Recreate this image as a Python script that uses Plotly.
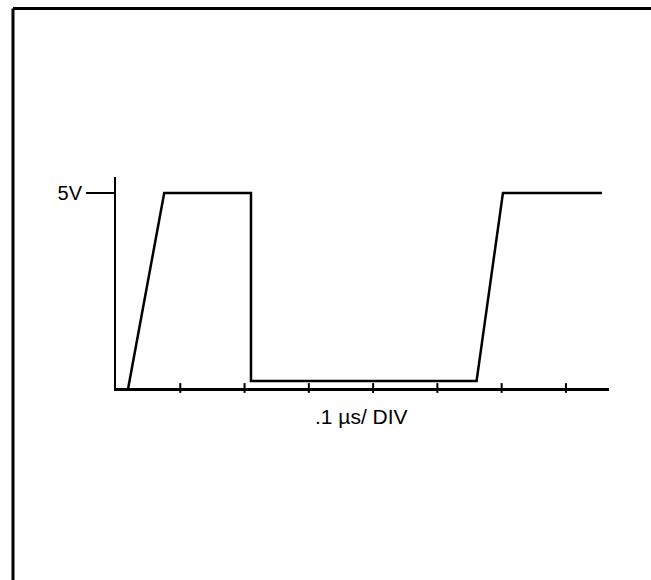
import plotly.graph_objects as go

# Waveform (time in divisions of .1 µs, voltage in volts)
wave_t = [0.19, 0.75, 2.10, 2.10, 5.61, 6.02, 7.56]
wave_v = [0.0, 5.0, 5.0, 0.18, 0.18, 5.0, 5.0]

x_ticks = [1, 2, 3, 4, 5, 6, 7]
y_ticks = [5]
y_tick_labels = ["5V"]
x_label = ".1 µs/ DIV"

x_range = [0, 7.67]
y_range = [0, 5.41]

fig = go.Figure()

fig.add_trace(go.Scatter(
    x=wave_t, y=wave_v, mode="lines",
    line=dict(color="black", width=2.5),
    cliponaxis=False, showlegend=False, hoverinfo="skip",
))

# crossing tick marks on the time axis
fig.add_trace(go.Scatter(
    x=x_ticks, y=[0] * len(x_ticks), mode="markers",
    marker=dict(symbol="line-ns", size=7, line=dict(color="black", width=2)),
    cliponaxis=False, showlegend=False, hoverinfo="skip",
))

font = "Liberation Sans, Arial, sans-serif"

# frame (top and left edges visible only)
fx0 = (13 - 116) / 493
fx1 = (700 - 116) / 493
fy0 = (388 - 640) / 211
fy1 = (388 - 8.5) / 211
frame_line = dict(color="black", width=3)

fig.update_layout(
    width=651, height=580, autosize=False,
    margin=dict(l=116, r=42, t=177, b=192),
    paper_bgcolor="white", plot_bgcolor="white",
    xaxis=dict(range=x_range, showgrid=False, zeroline=False,
               showline=True, linecolor="black", linewidth=2.5,
               showticklabels=False, ticks="", fixedrange=True),
    yaxis=dict(range=y_range, showgrid=False, zeroline=False,
               showline=True, linecolor="black", linewidth=2,
               tickvals=y_ticks, ticktext=y_tick_labels,
               ticks="outside", ticklen=28, tickwidth=2, tickcolor="black",
               tickfont=dict(family=font, size=20, color="black"),
               fixedrange=True),
    annotations=[dict(
        text=x_label, xref="paper", yref="paper",
        x=(361 - 116) / 493, y=(388 - 416) / 211,
        xanchor="center", yanchor="middle", showarrow=False,
        font=dict(family=font, size=21, color="black"),
    )],
    shapes=[
        dict(type="line", xref="paper", yref="paper",
             x0=fx0, x1=fx1, y0=fy1, y1=fy1, line=frame_line, layer="above"),
        dict(type="line", xref="paper", yref="paper",
             x0=fx0, x1=fx0, y0=fy0, y1=fy1, line=frame_line, layer="above"),
        dict(type="line", xref="paper", yref="paper",
             x0=(647 - 116) / 493, x1=(647 - 116) / 493, y0=0, y1=1,
             line=dict(color="white", width=4), layer="above"),
    ],
)

fig.write_html(
    "out.html",
    config={"displayModeBar": False},
    post_script=(
        "document.documentElement.style.margin='0';"
        "document.documentElement.style.overflow='hidden';"
        "document.body.style.margin='0';"
        "document.body.style.overflow='hidden';"
    ),
)
